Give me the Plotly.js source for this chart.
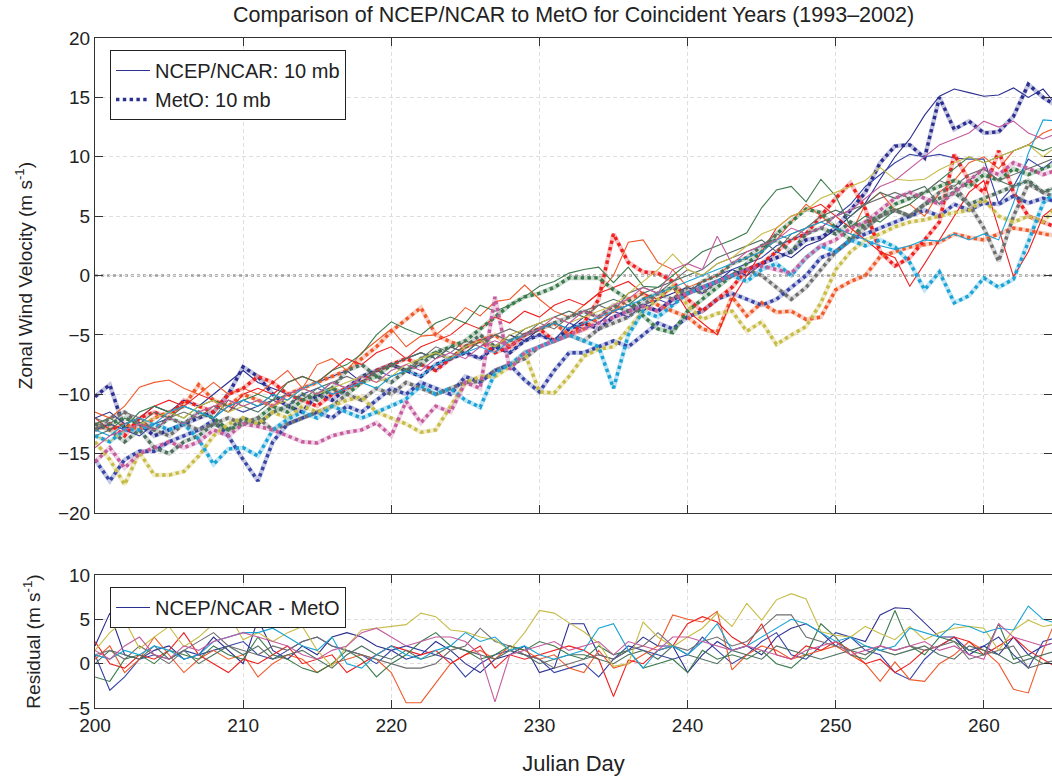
<!DOCTYPE html>
<html>
<head>
<meta charset="utf-8">
<script src="https://cdn.plot.ly/plotly-3.0.1.min.js"></script>
<style>body{margin:0;background:#fff}#chart{width:1052px;height:776px}</style>
</head>
<body>
<div id="chart"></div>
<script>
// Julian days 200..265
const days = [];
for (let d = 200; d <= 265; d++) days.push(d);

const yearColors = ['#2b2f8f','#3745a5','#f05a2a','#ee2020','#3b7b4c','#4f7060','#6e6e6e','#c8bc48','#1ba3d6','#c45c9e'];

// NCEP/NCAR 10 mb zonal wind (m/s), one array per year
const ncep1 = [-12,-11.5,-12.5,-12,-11,-11.5,-10.5,-11,-10,-9,-8,
 -9,-9.5,-10,-9.5,-9,-8.5,-8,-9,-8,-7.5,-7,
 -6.5,-7,-6,-6.5,-5.5,-6,-5,-5.5,-4.5,-4,-4.5,
 -3.5,-4,-3,-2.5,-3,-2,-1.5,-1,-1.5,-0.5,0.5,
 0,1,2,1.5,2.5,3,3.9,5,6.1,8.1,10,
 11.5,13.5,15.1,15.7,15.4,15.1,15.2,15.8,15,15.7,14.2];
const ncep2 = [-13,-12.5,-13,-13.5,-12.5,-12,-12.5,-11.5,-12,-11,-11.5,
 -11,-10.5,-11,-10,-9.5,-10,-9.5,-9,-8,-8.5,-8,
 -7.5,-8,-7,-6.5,-7,-6,-6.5,-5.5,-5,-5.5,-4,
 -4.5,-4,-3,-3.5,-2.5,-2,-2.5,-1.5,-0.5,0,0.5,
 1,1.5,2.5,3,3.5,4,5,6,7.5,8.5,9.5,
 10.2,10,10.2,9.9,9.8,9.8,6.1,7.5,9.8,9,10];
const ncep3 = [-11.5,-12,-11,-9.4,-9,-8.8,-9.5,-10,-9,-10,-9.5,
 -10,-9,-8,-9.5,-7.5,-7,-8,-6.5,-5.5,-4.5,-6,
 -5.1,-5,-4,-2.7,-3.4,-2.2,-2,-0.8,-2,-3,-3.5,
 -2.5,-1.5,0,2.8,3,1.1,0.5,-1,-0.5,0,1,
 1.5,2,3,4.5,6,5,4,3.5,6,7,5.5,
 6,5,7,8,9.5,10,9,10.5,11,12,12.5];
const ncep4 = [-12,-13,-12.5,-12,-11,-10.5,-11,-10,-10.5,-11.5,-10,
 -9.5,-10,-9,-8.5,-9,-8,-7,-7.5,-6.5,-6,-7,
 -6,-5.5,-5,-4,-4.5,-3.5,-4,-3,-3.5,-2.5,-2,
 -2.5,-1.5,-1,-0.5,-1.5,-2,-1,-3,-4,-5,-2,
 0,2,4,5,5.5,6,5,4,3,2,1.5,
 -0.9,1,3,5,7,8,4,-0.1,2,5,6];
const ncep5 = [-12.5,-12,-12.8,-11.5,-11,-11.5,-12,-11,-10.5,-11,-10.5,
 -10,-10.5,-9,-8.5,-9,-8,-7.5,-6.6,-5,-3.9,-4.5,
 -5,-4,-3.5,-4,-2.5,-3,-2.5,-1.8,-0.9,-0.5,0.2,
 0.5,0.7,-0.6,0.7,-0.9,-1,0,1,2,2.5,3,
 3.6,5.7,7.2,7.5,6.2,8.1,6.7,4.1,5,4.5,5.5,
 6,7,8,9,10,9.5,10,10.5,11,10.5,11];
const ncep6 = [-13.5,-13,-12,-12.5,-11.5,-12,-11,-11.5,-12,-10.5,-11,
 -11.5,-10.5,-10,-10.5,-9.5,-9,-9.5,-8.5,-8,-7.5,-7,
 -6.5,-7,-6,-6.5,-5.5,-5,-5.5,-4.5,-4,-3.5,-3,
 -3.5,-2.5,-2,-2.5,-1.5,-1,-0.5,0,0.5,1.5,2,
 2.5,3,2,3.5,4,5,5.5,5,6,7,6.5,
 7,7.5,6,7,8,9,8,7.5,8,7,7.5];
const ncep7 = [-12,-12.5,-11.5,-12,-13,-12,-11.5,-12,-11,-11.5,-10.5,
 -11,-10,-10.5,-9.5,-10,-9,-8.5,-9,-8,-7.5,-8,
 -7,-6,-6.5,-5.5,-6,-5,-4.5,-5,-4,-4.5,-3.5,
 -3,-2.5,-3,-1.5,-1,-1.5,-0.5,0.5,0,1,1.5,
 2,2.5,3.5,3,4,4.5,5,5.5,6,6.5,7,
 6.5,7,8,7.5,8.5,9,8,8.5,9,9.5,10];
const ncep8 = [-13.5,-14,-13,-12.5,-12,-11.5,-12,-11,-10.5,-11.5,-11,
 -10.5,-11,-10.5,-9.5,-10,-9.5,-9,-8.5,-9,-8.5,-7.5,
 -7,-6.5,-7,-6,-5.5,-6,-5,-4.5,-4,-3.5,-4,
 -3.5,-3,-2.5,-1.5,-0.5,0.5,1.8,0.5,0,1,1.5,
 2.5,3.5,4,5,5.5,6.5,7,7.5,8,9.1,8.1,
 8,8.1,8.9,9.5,10,9.5,10,10.5,11,10,11];
const ncep9 = [-13,-13.5,-12.5,-12,-12.5,-11.5,-11,-11.5,-12,-11,-10.5,
 -11,-10,-10.5,-9.5,-9,-10,-9.5,-9,-9.5,-8.5,-8,
 -8.5,-7.5,-7,-6.5,-6,-6.5,-5.5,-5,-4.5,-4,-4.5,
 -4,-3.5,-3,-2.5,-2,-1.5,-1,-0.5,0,0.5,1,
 1.5,2,3,3.5,4,4.5,4,3.5,3,2.5,2.2,
 2.5,3,2.9,3.5,3,3.5,3,6.1,10.3,13.1,13];
const ncep10 = [-14.5,-13.5,-13,-12.5,-13,-12,-12.5,-11.5,-11,-10.5,-11,
 -10.5,-11,-10,-9.5,-10,-9,-9.5,-8.5,-9,-8,-7.5,
 -8,-7,-6.5,-7,-6,-5.5,-6,-5,-4.5,-3.5,-4,
 -3,-3.5,-2.5,-2,-1,-1.5,0.5,1,0.5,3.3,1,
 2,2.5,3,4,3.5,4,5,5.5,6.5,7.5,8,
 9,10,11,11.5,12,13,12.5,13,12,11.5,12];

// MetO 10 mb zonal wind (m/s), one array per year
const meto1 = [-10.2,-9.2,-13,-12.5,-13.5,-13,-12.5,-12,-11.5,-10,-7.7,
 -8.5,-10,-11,-11.5,-10,-10.5,-9.5,-8.5,-8,-7.5,-8,
 -8.5,-7.5,-7,-6.5,-7,-6,-6.5,-5.5,-5,-5.5,-4.5,
 -4,-4.5,-3.5,-3,-2.5,-3,-2,-1.5,-1,-0.5,0,
 0.5,1,1.5,2,3,3.2,4,5.5,7,9.5,10.9,
 11,9.9,15,12.3,13,12,12.1,13.4,16.1,15,14.2];
const meto2 = [-15.5,-17.3,-15.5,-14.8,-14.8,-14,-13.5,-13,-12.2,-13.5,-15.5,
 -17.3,-14,-12.5,-12,-11.5,-12,-11,-11.5,-10.5,-9.5,-10,
 -9,-9.5,-10,-8.5,-9,-8,-7.5,-8.8,-9.8,-8,-6.5,
 -6.5,-6,-5.5,-6,-5,-4,-4.5,-3.5,-3,-2,-1.5,
 -2,-2.5,-2,-1,0,1.5,2,3,3.5,4,4.5,
 5,5.5,5,6,5.5,6.1,6,6.7,6.1,6.5,6.2];
const meto3 = [-12.5,-13,-12.5,-13,-12,-11.5,-11,-9.2,-10.5,-11,-10,
 -10.5,-11,-10,-9.5,-9,-8.5,-8,-7,-6,-4.7,-3.7,
 -2.7,-5,-5.6,-6,-5.5,-5,-6,-5,-4.5,-4,-5,
 -4.5,-3.5,-3,-2,-1.5,-2.5,-3,-3.5,-4.5,-4.8,-1.8,
 -3.4,-2.3,-3.1,-3,-3.7,-3.5,-1.2,-0.5,0,1.6,2,
 2.4,2.6,2.8,3.5,3.2,3,3.5,4,3.8,3.5,3.3];
const meto4 = [-13,-12.5,-13.5,-12,-11.5,-12,-10.5,-11,-11.5,-10,-9.5,
 -8.5,-9,-10,-10.5,-11,-10,-9.5,-9,-8,-7.5,-7,
 -7.5,-8,-7,-6,-5.5,-6.5,-6,-5,-4.5,-5.5,-5,
 -4,-2,3.5,1.1,0.3,0.2,-0.5,-2,-3,-2,-1,
 0.5,1,2,3,3.5,5,6.5,7.8,5.6,2,0.8,
 1.5,3,4.5,10.2,8,7,10.5,7,5,4.5,4];
const meto5 = [-13,-12.5,-12,-12.5,-13,-12,-12.5,-11.5,-12,-13,-12.5,
 -12,-11,-11.5,-10.5,-10,-9.5,-10,-9,-8.5,-7.5,-8,
 -7,-6.5,-6,-5.5,-4.5,-3.5,-2.5,-1.8,-1.5,-1,-0.2,
 -0.2,-0.2,-1.2,-2,-3.4,-4.5,-4.8,-3,-2,-1,0,
 1,2,3.5,4.5,5.6,5.3,4,3,4.5,5,6,
 6.5,7,7.5,8,7.5,8.5,8,9,8.5,9,9.5];
const meto6 = [-12.5,-13,-14,-13,-14.5,-15,-14,-13.5,-12.5,-13,-12,
 -12.5,-11.5,-11,-10,-10.5,-9.5,-8,-7.5,-8.5,-9,-8,
 -7.5,-6.5,-7,-6,-5,-6,-5.5,-5,-4.5,-4,-3.5,
 -3,-3.5,-2.5,-3,-2,-1.5,-1,-1.5,-0.5,0,1,
 1.5,2.5,3,2,3.5,4,3.5,4.5,4,5,5.5,
 5,6,6.5,7,6,6.5,7,7.5,8,7,7.5];
const meto7 = [-13,-12,-11.5,-12.5,-13,-13.5,-12.5,-13,-12.5,-12,-12.5,
 -12,-13,-12.5,-12,-11.5,-11,-10,-10.5,-9.5,-10,-9,
 -9.5,-10,-9.5,-9,-8.9,-8,-7.5,-7,-6,-5.5,-5,
 -5.5,-4.5,-4,-3.5,-2.5,-1.5,-2,-1,-1.5,-0.5,0,
 0.5,0,-1,-2,-1,0.5,2,3,4,5,5.5,
 5,6,7,7.5,6,4,1.2,5,7.7,7,6.5];
const meto8 = [-14,-15.5,-17.6,-14.9,-16.8,-16.8,-16.5,-15.2,-13.5,-12.5,-12,
 -12.5,-11.5,-12,-11,-11.5,-11,-10.5,-10.2,-11.5,-12,-12.5,
 -13.2,-13,-11,-9,-8.5,-8.5,-7.7,-6.5,-9.8,-9.9,-8.5,
 -6.8,-6.2,-6,-4.5,-3,-2,-0.9,-2.5,-3.7,-3.2,-3,
 -4.7,-3.9,-5.8,-5,-4.3,-2.3,0.5,2,3,3.5,4.1,
 4.5,4.7,5,5.3,5.5,6.4,5,4.5,5,4.5,6];
const meto9 = [-13.5,-14,-13,-13,-12.5,-13,-12.5,-13.8,-15.9,-14.6,-14.5,
 -15.2,-13,-12.1,-11.5,-12,-11,-11.5,-12,-11.5,-11,-10.4,
 -9.3,-10,-9.5,-10.5,-11.1,-8.2,-7.5,-6.5,-6,-5.5,-5,
 -5.5,-6,-9.5,-5,-3,-3.5,-2.5,-1.5,-1,-0.5,0,
 -0.5,0.5,1,0,1.5,2.5,2,3,2.5,3,2.4,
 1.1,-1.2,0.3,-2.3,-1.7,-0.2,-1,-0.3,2.8,6.1,7.2];
const meto10 = [-15.7,-14.5,-16.2,-15,-14.5,-14,-14.5,-14,-13,-13.5,-12.5,
 -12.7,-13,-13.5,-14,-14.1,-13.5,-13.2,-13,-12.4,-13.5,-10.6,
 -12.4,-11,-11.5,-9,-9.5,-1.8,-7.9,-6.5,-6,-5.5,-5,
 -4.5,-4,-3.5,-3,-2.6,-3,-2,-1.5,-1,-0.5,0,
 0.5,0.8,0.5,0.2,1.5,2.5,3,4,4.5,5.5,6.5,
 7,6.5,6,7,8,9,8.5,9.5,9,8.5,8.9];

// Residual NCEP/NCAR - MetO (m/s), one array per year
const resid1 = [2,5.7,1,0.5,1.5,2,0.5,1,3,1.5,0,
 5,1.5,0.5,2,1,3,3.5,3,2,1.5,0.5,
 1,2.5,1.5,0,-1,0.5,1,2,-1,-0.5,4.5,
 4.5,1,0.5,1.5,3,2,2,-1,1,2.5,1.5,
 2,1,3,4,4.5,3.5,2,3,2.5,5.5,6.3,
 6.2,4.6,3,3,1,2,1,3,1,2,2.5];
const resid2 = [1,-3,-1.5,0.5,1,0.5,1.5,1,1.5,2,2.5,
 1,0.5,1.5,2.5,3,2,1.5,1,0,1.5,2,
 1.5,1,0.5,-1.5,0,1,1.5,1,0.5,-1,-0.5,
 0,-1.5,0.5,2,1.5,1,0.5,1,3,1.5,0,
 1,2.5,3.5,1,0.5,2,3.5,3,1.5,1,-1,
 -1.8,0.5,2,3,1.5,2,3,1,-0.5,2.5,3];
const resid3 = [0.5,2,-1,0.5,3,1,-1,0.5,1.5,0.5,1,
 -1.5,0,1,0.5,-1,0,0.5,1,0.5,-1,-4.4,
 -4.4,-2.2,0,1,1.5,0.5,2,1.5,0.5,1,-0.5,
 -1,1.5,-0.5,0,1,2,5.5,5,4.7,5.9,-0.7,
 1,2,1.5,0.5,1,1.5,2,1,0,-2,0.2,
 -1.8,-2,0,1,2.5,1.5,0,-2.9,-3.3,1.5,5.5];
const resid4 = [2.5,0,-0.5,1,0.5,1.5,3.5,1,0,-1,0.5,
 0,1,2,0,0.5,1,-1,0,1,2,1.5,
 1,1.5,0,1,2,-0.5,1,0.5,1,1.5,2,
 1.5,0.5,-3.7,0.4,0,1.5,2,4.5,5.3,4.7,3,
 2,4.5,1,0.5,2,1.5,2.5,1.5,0,0.5,-1,
 0,1.5,2,3,2.5,1,2,3,1.5,0.5,-0.5];
const resid5 = [-1.5,-2,0.5,1,0,1.5,1,0.5,2,1,0.5,
 3,1,0.5,-0.5,-1,0,1.5,0.5,-1.5,0,1,
 2.5,3.5,2,1.5,0.5,1,2,1.5,2.5,2,1,
 0.5,2,1,1.5,-0.5,0,0.5,-1,1.5,0.5,1,
 0.5,1.5,0,-0.5,1,4.5,3,1,0.5,2,6,
 2,1,3,2.5,1.5,1,4.5,0.5,1,0,0.5];
const resid6 = [0,1.5,1,0.5,2,0.5,1.5,0,1,2,1,
 2,0.5,1,1.5,0.5,-0.5,1,2,1,0.5,1.5,
 0.5,1,2,1.5,1,0.5,1.5,1,0,0.5,1,
 1,0.5,0,1,1.5,0.5,2,1,0.5,0,1.5,
 1,0.5,2,1.5,1,0.5,1,1.5,2,1.5,1,
 1.5,2,1,0.5,2,1.5,1,0,0.5,1,1.5];
const resid7 = [1,1.5,0.5,2,1,0,1.5,2.5,3.5,2,1.5,
 1,2,1.5,2.5,3,2,1.5,1,0.5,0,-0.5,
 -0.5,0,1.5,2,4,2.5,2,1,0.5,-0.5,0,
 0.5,1,0.5,1.5,2,3.5,2,1.5,2.5,3,2,
 2.5,4,5.5,5.5,3,2.5,2,1.5,1,2,1.5,
 2,1.5,2,2.5,0.5,1,1.5,2,-0.5,0,0.5];
const resid8 = [1.5,3.5,4.9,1.7,3,4.2,1.9,3,4.5,5.7,2.7,
 3.5,2.5,3.5,4.2,1.5,-0.3,2,3.8,4,4.2,4.4,
 5.7,5.3,3.8,3.6,3,2.7,1.5,3.5,6,5.7,4.6,
 3.6,2.3,-0.3,0,4.7,3,1.9,3,4,5.7,4.2,
 6.8,4.9,7.2,7.9,7.3,3.6,3.2,3,4.2,3.4,2.7,
 4.2,2.7,3.5,4,4.2,4,1.5,3.8,4.9,4.2,4.5];
const resid9 = [1,0.5,1.5,1,2,1.5,0.5,1,2.5,3,3.5,
 3.5,4,3,2,1.5,3,0,-0.5,1,2,1,
 0.5,1.5,2,3.5,2.5,3,1.5,2,1,0.5,1,
 1.5,4,4.5,1.5,-0.5,1.5,2,1,2.5,4.5,1.5,
 2,3,4,5,4.5,3.5,2.5,3,2,1.5,2,
 4,3.5,3,4.5,4.2,3.5,4,3.8,6.5,5,4.5];
const resid10 = [1.5,0.5,2,3,1,0.5,2,1.5,2.5,3,3.5,
 3,2.5,2,1,0.5,1.5,2,3.5,4,3,2,
 2.5,3,3,2.5,1,-4.3,1,1.5,2,2.5,1.5,
 2,2.5,1,2.5,2,1.5,3,3,2.5,2,1.5,
 2,1.5,1,0.5,1.5,2,2.5,1,1.5,2,1.5,
 2,2.5,1.5,2,1,0.5,4.5,3,2.5,2,2.5];

const legendLabels = ['NCEP/NCAR: 10 mb', 'MetO: 10 mb', 'NCEP/NCAR - MetO'];

const ncepAll = [ncep1,ncep2,ncep3,ncep4,ncep5,ncep6,ncep7,ncep8,ncep9,ncep10];
const metoAll = [meto1,meto2,meto3,meto4,meto5,meto6,meto7,meto8,meto9,meto10];
const residAll = [resid1,resid2,resid3,resid4,resid5,resid6,resid7,resid8,resid9,resid10];

function rgba(hex, a) {
  const n = parseInt(hex.slice(1), 16);
  return 'rgba(' + ((n >> 16) & 255) + ',' + ((n >> 8) & 255) + ',' + (n & 255) + ',' + a + ')';
}

const traces = [];
// soft halos under the dotted MetO lines
metoAll.forEach((m, i) => {
  traces.push({x: days, y: m, type: 'scatter', mode: 'lines', xaxis: 'x', yaxis: 'y',
    line: {color: rgba(yearColors[i], 0.28), width: 4.5}, showlegend: false, hoverinfo: 'skip'});
});
for (let i = 0; i < 10; i++) {
  traces.push({x: days, y: ncepAll[i], type: 'scatter', mode: 'lines', xaxis: 'x', yaxis: 'y',
    name: legendLabels[0], showlegend: i === 0, legend: 'legend',
    line: {color: yearColors[i], width: 1.1}});
  traces.push({x: days, y: metoAll[i], type: 'scatter', mode: 'lines', xaxis: 'x', yaxis: 'y',
    name: legendLabels[1], showlegend: i === 0, legend: 'legend',
    line: {color: yearColors[i], width: 3.4, dash: 'dot'}});
}
residAll.forEach((r, i) => {
  traces.push({x: days, y: r, type: 'scatter', mode: 'lines', xaxis: 'x2', yaxis: 'y2',
    name: legendLabels[2], showlegend: i === 0, legend: 'legend2',
    line: {color: yearColors[i], width: 1.1}});
});

const axCommon = {
  showline: true, linecolor: '#333', linewidth: 1, mirror: 'ticks',
  ticks: 'inside', ticklen: 8, tickcolor: '#333',
  showgrid: true, gridcolor: '#dedede', griddash: '4px,3px', gridwidth: 1,
  zeroline: false, tickfont: {size: 19, color: '#222'}
};

const layout = {
  width: 1052, height: 776,
  margin: {l: 95, r: 0, t: 38, b: 68},
  paper_bgcolor: '#fff', plot_bgcolor: '#fff',
  font: {family: 'Liberation Sans, Arial, sans-serif', size: 19, color: '#222'},
  title: {text: 'Comparison of NCEP/NCAR to MetO for Coincident Years (1993\u20132002)',
    x: 0.5, xref: 'paper', xanchor: 'center', y: 0.981, yref: 'container', yanchor: 'middle',
    font: {size: 21.5, color: '#222'}},
  xaxis: Object.assign({}, axCommon, {domain: [0, 1], range: [200, 264.6], anchor: 'y',
    tick0: 200, dtick: 10, showticklabels: false}),
  yaxis: Object.assign({}, axCommon, {domain: [0.291, 1], range: [-20, 20], anchor: 'x',
    tick0: -20, dtick: 5,
    title: {text: 'Zonal Wind Velocity (m s<sup>-1</sup>)', standoff: 20, font: {size: 19}}}),
  xaxis2: Object.assign({}, axCommon, {domain: [0, 1], range: [200, 264.6], anchor: 'y2',
    tick0: 200, dtick: 10,
    title: {text: 'Julian Day', standoff: 22, font: {size: 22}}}),
  yaxis2: Object.assign({}, axCommon, {domain: [0, 0.1985], range: [-5, 10], anchor: 'x2',
    tick0: -5, dtick: 5,
    title: {text: 'Residual (m s<sup>-1</sup>)', standoff: 22, font: {size: 19}}}),
  shapes: [{type: 'line', xref: 'x domain', x0: 0, x1: 1, yref: 'y', y0: 0, y1: 0,
    line: {color: '#a0a0a0', width: 2.5, dash: 'dot'}, layer: 'below'}],
  legend: {x: 0.0157, y: 0.982, xanchor: 'left', yanchor: 'top', bgcolor: '#fff',
    bordercolor: '#222', borderwidth: 1, font: {size: 20, color: '#222'}, tracegroupgap: 0,
    itemwidth: 34},
  legend2: {x: 0.0157, y: 0.1806, xanchor: 'left', yanchor: 'top', bgcolor: '#fff',
    bordercolor: '#222', borderwidth: 1, font: {size: 20, color: '#222'}, itemwidth: 34},
  showlegend: true,
  hovermode: false
};

Plotly.newPlot('chart', traces, layout, {staticPlot: true});
</script>
</body>
</html>
